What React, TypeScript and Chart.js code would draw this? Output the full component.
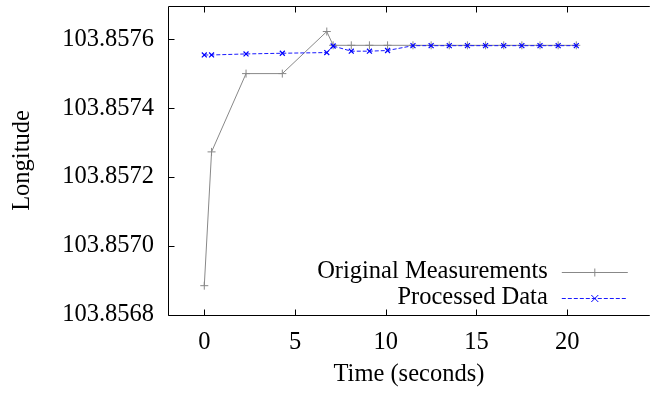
import React, { useEffect, useRef } from "react";
import { Chart, registerables } from "chart.js";

Chart.register(...registerables);

// ---- data ----
const TIME = [0, 0.4, 2.3, 4.3, 6.75, 7.1, 8.1, 9.1, 10.1, 11.5, 12.5, 13.5, 14.5, 15.5, 16.5, 17.5, 18.5, 19.5, 20.5];
const ORIGINAL = [
  103.856885, 103.857273, 103.8575, 103.8575, 103.857622, 103.857582, 103.857582, 103.857582, 103.857582,
  103.857582, 103.857582, 103.857582, 103.857582, 103.857582, 103.857582, 103.857582, 103.857582, 103.857582, 103.857582,
];
const PROCESSED = [
  103.857554, 103.857554, 103.857557, 103.857559, 103.857561, 103.85758, 103.857565, 103.857565, 103.857567,
  103.857581, 103.857581, 103.857581, 103.857581, 103.857581, 103.857581, 103.857581, 103.857581, 103.857581, 103.857581,
];
const X_TICKS = [0, 5, 10, 15, 20];
const Y_TICKS = [103.8568, 103.857, 103.8572, 103.8574, 103.8576];
const SERIES_LABELS = ["Original Measurements", "Processed Data"];
const X_TITLE = "Time (seconds)";
const Y_TITLE = "Longitude";

const FONT = "Liberation Serif";
const FONT_SIZE = 24.5;
const GRAY = "#888888";
const BLUE = "#1a1aff";

function drawMarker(ctx: CanvasRenderingContext2D, style: string, x: number, y: number, r: number, color: string) {
  ctx.save();
  ctx.strokeStyle = color;
  ctx.lineWidth = 1;
  ctx.setLineDash([]);
  ctx.beginPath();
  if (style === "cross") {
    ctx.moveTo(x - r, y);
    ctx.lineTo(x + r, y);
    ctx.moveTo(x, y - r);
    ctx.lineTo(x, y + r);
  } else {
    ctx.moveTo(x - r, y - r);
    ctx.lineTo(x + r, y + r);
    ctx.moveTo(x - r, y + r);
    ctx.lineTo(x + r, y - r);
  }
  ctx.stroke();
  ctx.restore();
}

const framePlugin = {
  id: "gnuplotFrame",
  afterDraw(chart: any) {
    const { ctx, chartArea } = chart;
    const { left, right, top, bottom } = chartArea;
    const xs = chart.scales.x;
    const ys = chart.scales.y;
    const tick = 6;
    ctx.save();
    ctx.strokeStyle = "#000";
    ctx.lineWidth = 1;
    ctx.setLineDash([]);
    ctx.beginPath();
    const L = Math.round(left) + 0.5;
    const T = Math.round(top) + 0.5;
    const B = Math.round(bottom) + 0.5;
    ctx.moveTo(right, T);
    ctx.lineTo(L, T);
    ctx.lineTo(L, B);
    ctx.lineTo(right, B);
    for (const v of X_TICKS) {
      const px = Math.round(xs.getPixelForValue(v)) + 0.5;
      ctx.moveTo(px, B);
      ctx.lineTo(px, B - tick);
      ctx.moveTo(px, T);
      ctx.lineTo(px, T + tick);
    }
    for (const v of Y_TICKS) {
      const py = Math.round(ys.getPixelForValue(v)) + 0.5;
      ctx.moveTo(L, py);
      ctx.lineTo(L + tick, py);
    }
    ctx.stroke();

    // legend (gnuplot-style: text right-aligned, sample to its right)
    const sampleRight = right - 22;
    const sampleLeft = sampleRight - 66;
    const textRight = sampleLeft - 14;
    const rowY = [bottom - 43, bottom - 17.5];
    ctx.font = `${FONT_SIZE}px "${FONT}"`;
    ctx.fillStyle = "#000";
    ctx.textAlign = "right";
    ctx.textBaseline = "middle";
    chart.data.datasets.forEach((ds: any, i: number) => {
      const y = rowY[i];
      ctx.fillText(ds.label, textRight, y);
      ctx.save();
      ctx.strokeStyle = ds.borderColor;
      ctx.lineWidth = ds.borderWidth;
      ctx.setLineDash(ds.borderDash || []);
      ctx.beginPath();
      ctx.moveTo(sampleLeft, Math.round(y) + 0.5);
      ctx.lineTo(sampleRight, Math.round(y) + 0.5);
      ctx.stroke();
      ctx.restore();
      drawMarker(ctx, ds.pointStyle, (sampleLeft + sampleRight) / 2, Math.round(y) + 0.5, ds.pointRadius, ds.pointBorderColor);
    });
    ctx.restore();
  },
};

export default function App() {
  const canvasRef = useRef<HTMLCanvasElement | null>(null);

  useEffect(() => {
    if (!canvasRef.current) return;
    Chart.defaults.font.family = FONT;
    Chart.defaults.font.size = FONT_SIZE;
    Chart.defaults.color = "#000";

    const chart = new Chart(canvasRef.current, {
      type: "line",
      data: {
        datasets: [
          {
            label: SERIES_LABELS[0],
            data: TIME.map((t, i) => ({ x: t, y: ORIGINAL[i] })),
            borderColor: GRAY,
            borderWidth: 1,
            pointStyle: "cross",
            pointRadius: 4,
            pointBorderColor: GRAY,
            pointBorderWidth: 1,
            pointBackgroundColor: GRAY,
            tension: 0,
            fill: false,
            order: 2,
          },
          {
            label: SERIES_LABELS[1],
            data: TIME.map((t, i) => ({ x: t, y: PROCESSED[i] })),
            borderColor: BLUE,
            borderWidth: 1,
            borderDash: [4, 2],
            pointStyle: "crossRot",
            pointRadius: 3.5,
            pointBorderColor: "#0000ff",
            pointBorderWidth: 1.2,
            pointBackgroundColor: "#0000ff",
            tension: 0,
            fill: false,
            order: 1,
          },
        ] as any,
      },
      options: {
        animation: false,
        responsive: true,
        maintainAspectRatio: false,
        layout: { padding: { top: 6, left: 0, right: 0, bottom: 0 } },
        plugins: {
          legend: { display: false },
          tooltip: { enabled: false },
        },
        scales: {
          x: {
            type: "linear",
            min: -2,
            max: 24.55,
            grid: { display: false, drawTicks: false },
            border: { display: false },
            afterBuildTicks: (scale: any) => {
              scale.ticks = X_TICKS.map((value) => ({ value }));
            },
            afterFit: (scale: any) => {
              scale.height = 79;
              scale.paddingLeft = 0;
              scale.paddingRight = 0;
            },
            ticks: {
              padding: 13,
              maxRotation: 0,
              callback: (v: any) => String(v),
            },
            title: {
              display: true,
              text: X_TITLE,
              padding: { top: 0, bottom: 5 },
            },
          },
          y: {
            type: "linear",
            min: 103.8568,
            max: 103.857696,
            grid: { display: false, drawTicks: false },
            border: { display: false },
            afterBuildTicks: (scale: any) => {
              scale.ticks = Y_TICKS.map((value) => ({ value }));
            },
            afterFit: (scale: any) => {
              scale.width = 168;
              scale.paddingTop = 0;
              scale.paddingBottom = 0;
            },
            ticks: {
              padding: 14,
              callback: (v: any) => Number(v).toFixed(4),
            },
            title: {
              display: true,
              text: Y_TITLE,
              padding: { top: 8, bottom: 0 },
            },
          },
        },
      },
      plugins: [framePlugin],
    });
    return () => chart.destroy();
  }, []);

  return (
    <div style={{ position: "fixed", left: 0, top: 0, width: 655, height: 394, background: "#fff" }}>
      <canvas ref={canvasRef} />
    </div>
  );
}
